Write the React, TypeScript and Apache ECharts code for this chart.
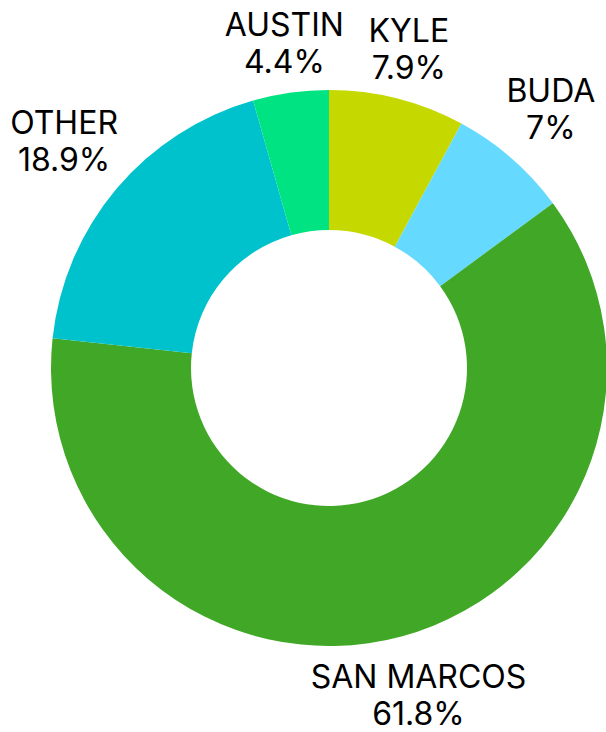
import React, { useEffect, useRef } from "react";
import * as echarts from "echarts";

const categories = ["KYLE", "BUDA", "SAN MARCOS", "OTHER", "AUSTIN"];
const shares = [7.9, 7, 61.8, 18.9, 4.4];
const colors = ["#c5d800", "#66d9ff", "#40a826", "#00c2cc", "#00e383"];

const CX = 329;
const CY = 368;
const R_IN = 138;
const R_OUT = 278;
const GAP = 8;

export default function App() {
  const ref = useRef<HTMLDivElement>(null);
  useEffect(() => {
    if (!ref.current) return;
    const chart = echarts.init(ref.current, null, { renderer: "svg" });
    const total = shares.reduce((a, b) => a + b, 0);
    const mids: number[] = [];
    let acc = 0;
    shares.forEach((v) => {
      mids.push(((acc + v / 2) / total) * 2 * Math.PI);
      acc += v;
    });
    chart.setOption({
      animation: false,
      series: [
        {
          type: "pie",
          center: [CX, CY],
          radius: [R_IN, R_OUT],
          startAngle: 90,
          clockwise: true,
          avoidLabelOverlap: false,
          itemStyle: { borderWidth: 0 },
          label: {
            show: true,
            position: "outside",
            fontFamily: "Inter",
            fontSize: 32,
            lineHeight: 37,
            color: "#000",
            align: "center",
            formatter: (p: any) => `${p.name}\n${p.value}%`,
          },
          labelLine: { show: false },
          emphasis: { disabled: true },
          labelLayout: (p: any) => {
            const a = mids[p.dataIndex];
            const s = Math.sin(a);
            const c = Math.cos(a);
            const w = p.labelRect.width;
            const h = p.labelRect.height - 14;
            const d = R_OUT + GAP + Math.abs(s) * w / 2 + Math.abs(c) * h / 2;
            return {
              x: CX + d * s,
              y: CY - d * c - 4,
              align: "center",
              verticalAlign: "middle",
            };
          },
          data: categories.map((name, i) => ({
            name,
            value: shares[i],
            itemStyle: { color: colors[i] },
          })),
        },
      ],
    });
    return () => chart.dispose();
  }, []);
  return (
    <div
      ref={ref}
      style={{ position: "absolute", left: 0, top: 0, width: 606, height: 732 }}
    />
  );
}
